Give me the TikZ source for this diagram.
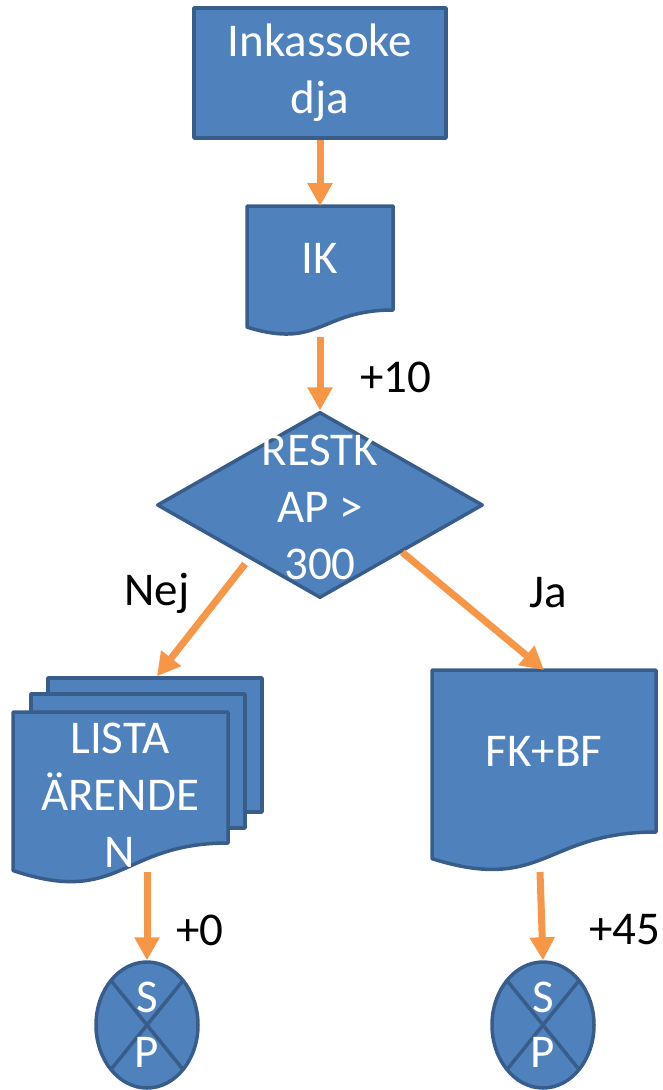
\documentclass[tikz,border=0pt]{standalone}
\usepackage{fontspec}
\setmainfont{Carlito}
\usetikzlibrary{arrows.meta,calc,shapes.geometric,backgrounds}
\definecolor{boxblue}{HTML}{4F81BD}
\definecolor{edgeblue}{HTML}{385D8A}
\definecolor{flow}{HTML}{F79646}
\newcommand{\bigtxt}{\fontsize{47}{57}\selectfont}

% document sheet with a wavy lower edge, drawn round a named node
\newcommand{\docwave}[2][0.1646]{%
  \draw[sheet] (#2.north west) -- (#2.north east) -- (#2.south east)
    .. controls (#2.south) and ($(#2.south)!-2.315*#1!(#2.north)$)
    .. ($(#2.south west)!-#1!(#2.north west)$) -- cycle;}

\begin{document}
\begin{tikzpicture}[x=1pt,y=-1pt,
    box/.style={draw=edgeblue, fill=boxblue, line width=3.5pt, line join=round, text=white, align=center, font=\bigtxt},
    sheet/.style={draw=edgeblue, fill=boxblue, line width=3.5pt, line join=round},
    docnode/.style={inner sep=0pt, outer sep=0pt, text=white, align=center, font=\bigtxt},
    endnode/.style={box, ellipse, inner sep=0pt, minimum width=102pt, minimum height=126pt, font=\fontsize{47}{55}\selectfont,
        path picture={\draw[edgeblue, line width=3.5pt] (path picture bounding box.north west) -- (path picture bounding box.south east)
            (path picture bounding box.north east) -- (path picture bounding box.south west);}},
    flowarrow/.style={draw=flow, line width=7pt, -{Triangle[width=24pt,length=23pt]}},
    lbl/.style={font=\bigtxt, text=black}]

  \useasboundingbox (0,0) rectangle (663,1090);

  \node[box, minimum width=252pt, minimum height=130pt, inner sep=0pt] (inkasso) at (320,73) {Inkassoke\\dja};

  \node[docnode, minimum width=146pt, minimum height=104pt] (ik) at (320,258) {IK};

  \node[box, diamond, minimum width=326pt, minimum height=186pt, inner sep=0pt] (chk) at (320,505) {};
  \node[docnode] (chktext) at (320,507) {RESTK\\AP >\\300};

  \node[docnode, minimum width=215pt, minimum height=131pt] (listfront) at (120.5,777.5) {};
  \node[docnode] (listtext) at (120,795) {LISTA\\ÄRENDE\\N};

  \node[docnode, minimum width=224pt, minimum height=162pt] (fkbf) at (544,751) {FK+BF};

  \node[endnode] (stopleft) at (147,1025) {S\\P};
  \node[endnode] (stopright) at (543,1025) {S\\P};

  \begin{pgfonlayer}{background}
    \docwave{ik}
    \node[sheet, minimum width=214pt, minimum height=134pt] (listback) at (155,745) {};
    \node[sheet, minimum width=214pt, minimum height=134pt] (listmid) at (138,761) {};
    \docwave[0.21]{listfront}
    \docwave{fkbf}
  \end{pgfonlayer}

  \draw[flowarrow] (inkasso.south) -- (ik.north);
  \draw[flowarrow] ([yshift=-27pt]ik.south) -- (chk.north);
  \draw[flowarrow] ([shift={(7.5pt,-11.5pt)}]chk.south west) -- ([xshift=2pt]listback.north);
  \draw[flowarrow] (chk.south east) -- (fkbf.north);
  \draw[flowarrow] ([shift={(26.5pt,-29pt)}]listfront.south) -- (stopleft.north);
  \draw[flowarrow] ([shift={(-4pt,-40pt)}]fkbf.south) -- (stopright.north);

  \node[lbl] (plusten) at (396,377) {+10};
  \node[lbl] (nej) at (157,593) {Nej};
  \node[lbl] (ja) at (548,593) {Ja};
  \node[lbl] (pluszero) at (200,930) {+0};
  \node[lbl] (plusfortyfive) at (625,930) {+45};

\end{tikzpicture}
\end{document}
